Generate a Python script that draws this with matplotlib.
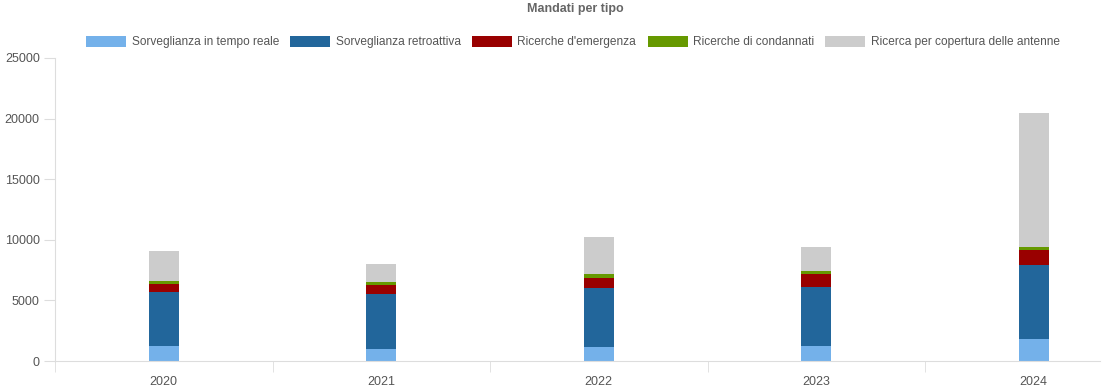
import numpy as np
import matplotlib.pyplot as plt
from matplotlib.patches import Patch

plt.rcParams['font.family'] = ['Liberation Sans', 'DejaVu Sans']

years = ['2020', '2021', '2022', '2023', '2024']
series_names = ['Sorveglianza in tempo reale', 'Sorveglianza retroattiva',
                "Ricerche d'emergenza", 'Ricerche di condannati',
                'Ricerca per copertura delle antenne']
tempo_reale = [1240, 990, 1160, 1210, 1790]
retroattiva = [4430, 4560, 4840, 4920, 6130]
emergenza = [680, 750, 870, 1020, 1240]
condannati = [250, 240, 280, 300, 270]
antenne = [2480, 1460, 3050, 1930, 11030]
colors = ['#74b1ea', '#22669b', '#990000', '#669900', '#cccccc']

series = [tempo_reale, retroattiva, emergenza, condannati, antenne]

fig = plt.figure(figsize=(11.04, 3.9), dpi=100)
ax = fig.add_axes([55/1104, 1 - 361/390, 1045/1104, 303/390])

x = np.arange(len(years))
bottom = np.zeros(len(years))
for vals, c in zip(series, colors):
    ax.bar(x, vals, width=0.14, bottom=bottom, color=c, edgecolor='none')
    bottom += np.array(vals)

# category width ~217.5 px, last category clipped at the right edge
ax.set_xlim(-0.5, 1045/217.5 - 0.5)
ax.set_ylim(0, 25000)
ax.set_yticks(np.arange(0, 25001, 5000))
ax.set_xticks(x)
ax.set_xticklabels(years)
ax.set_xticks(np.arange(-0.5, 4.0, 1), minor=True)
ax.tick_params(axis='x', which='major', length=0, pad=11, labelsize=9, labelcolor='#555555')
ax.tick_params(axis='x', which='minor', length=8, color='#dddddd')
ax.tick_params(axis='y', length=8, color='#dddddd', labelsize=9, labelcolor='#555555', pad=3)
for s in ['top', 'right']:
    ax.spines[s].set_visible(False)
for s in ['left', 'bottom']:
    ax.spines[s].set_color('#dddddd')

handles = [Patch(facecolor=c, edgecolor='none') for c in colors]
fig.legend(handles, series_names, loc='center', bbox_to_anchor=(573/1104, 1 - 42/390),
           ncol=5, frameon=False, fontsize=8.6, handlelength=3.35, handleheight=1.05,
           columnspacing=0.95, handletextpad=0.45, labelcolor='#555555')
fig.text(575/1104, 1 - 9/390, 'Mandati per tipo', ha='center', va='center',
         fontsize=9, fontweight='bold', color='#666666')

fig.savefig('out.png', dpi=100)
